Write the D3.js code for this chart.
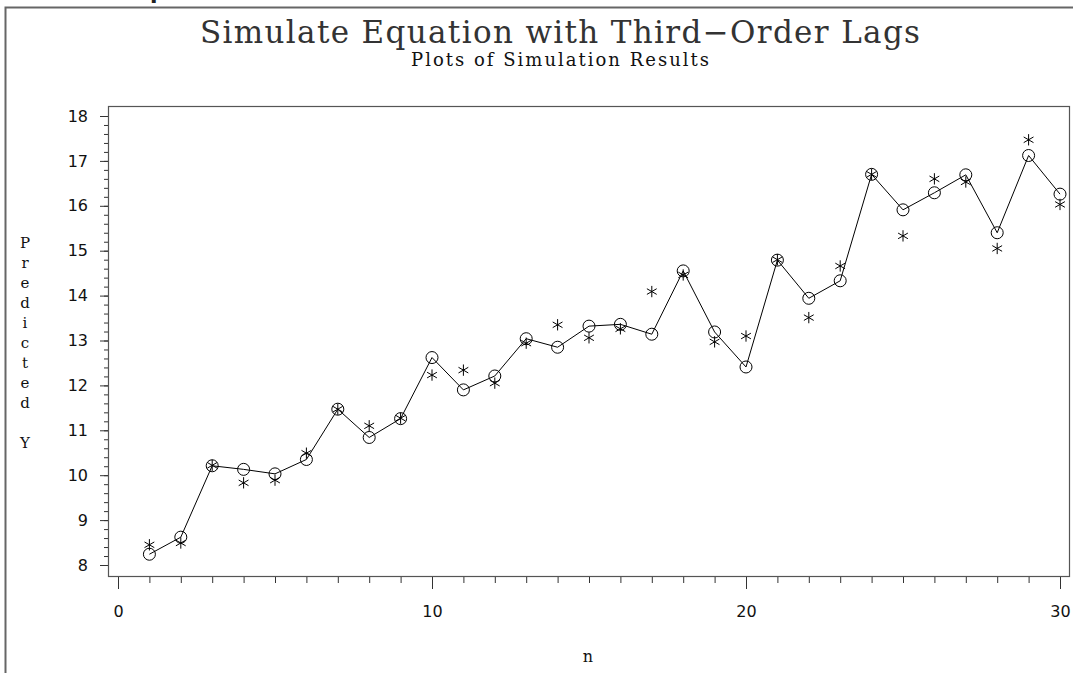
<!DOCTYPE html>
<html>
<head>
<meta charset="utf-8">
<script src="https://cdn.jsdelivr.net/npm/d3@7"></script>
<style>
  html, body { margin: 0; padding: 0; background: #fff; }
  svg { display: block; }
</style>
</head>
<body>
<div id="chart"></div>
<script>
// values
const nValues = [1, 2, 3, 4, 5, 6, 7, 8, 9, 10, 11, 12, 13, 14, 15, 16, 17, 18, 19, 20, 21, 22, 23, 24, 25, 26, 27, 28, 29, 30];
const predicted = [8.24, 8.62, 10.21, 10.13, 10.03, 10.35, 11.47, 10.84, 11.26, 12.62,
                   11.90, 12.21, 13.04, 12.85, 13.32, 13.36, 13.14, 14.55, 13.19, 12.41,
                   14.79, 13.94, 14.33, 16.70, 15.91, 16.29, 16.69, 15.40, 17.12, 16.26];
const actual = [8.45, 8.49, 10.22, 9.83, 9.89, 10.49, 11.47, 11.10, 11.27, 12.23,
                12.34, 12.05, 12.94, 13.35, 13.06, 13.26, 14.09, 14.46, 12.97, 13.10,
                14.80, 13.51, 14.66, 16.70, 15.33, 16.60, 16.53, 15.05, 17.47, 16.03];
const yMajorTicks = [8, 9, 10, 11, 12, 13, 14, 15, 16, 17, 18];
const xMajorTicks = [0, 10, 20, 30];
const titleText = "Simulate Equation with Third\u2212Order Lags";
const subtitleText = "Plots of Simulation Results";
const yLabel = "Predicted Y";
const xLabel = "n";

const width = 1073;
const height = 673;

// plot frame
const frameLeft = 108, frameRight = 1069, frameTop = 106, frameBottom = 576;

const x = d3.scaleLinear().domain([0, 30]).range([118, 1060]);
const y = d3.scaleLinear().domain([8, 18]).range([565, 116]);

const serif = "'DejaVu Serif', 'Liberation Serif', serif";
const sans = "'DejaVu Sans', Verdana, sans-serif";

const svg = d3.select("#chart").append("svg")
    .attr("width", width)
    .attr("height", height);

// outer page frame (only top and left edges show)
svg.append("path")
    .attr("d", `M5.5,${height} L5.5,7.5 L${width},7.5`)
    .attr("fill", "none")
    .attr("stroke", "#666")
    .attr("stroke-width", 2);

// cut-off heading above the frame, only the descender is visible
svg.append("text")
    .attr("x", 150)
    .attr("y", -1.5)
    .attr("font-family", sans)
    .attr("font-weight", "bold")
    .attr("font-size", 22)
    .attr("fill", "#222")
    .text("p");

// titles
svg.append("text")
    .attr("x", 560)
    .attr("y", 43)
    .attr("text-anchor", "middle")
    .attr("font-family", serif)
    .attr("font-size", 31)
    .attr("textLength", 720)
    .attr("lengthAdjust", "spacing")
    .attr("fill", "#333")
    .text(titleText);

svg.append("text")
    .attr("x", 560)
    .attr("y", 66)
    .attr("text-anchor", "middle")
    .attr("font-family", serif)
    .attr("font-size", 18)
    .attr("textLength", 298)
    .attr("lengthAdjust", "spacing")
    .attr("fill", "#111")
    .text(subtitleText);

// plot frame
svg.append("rect")
    .attr("x", frameLeft + 0.5)
    .attr("y", frameTop + 0.5)
    .attr("width", frameRight - frameLeft)
    .attr("height", frameBottom - frameTop)
    .attr("fill", "none")
    .attr("stroke", "#555")
    .attr("stroke-width", 1.2);

// y axis: minor ticks every 0.2, major ticks with labels
const yMinor = svg.append("g")
    .attr("transform", `translate(${frameLeft},0)`)
    .call(d3.axisLeft(y).ticks(50).tickSize(4).tickFormat(""));
yMinor.select(".domain").remove();

const yMajor = svg.append("g")
    .attr("transform", `translate(${frameLeft},0)`)
    .call(d3.axisLeft(y).tickValues(yMajorTicks).tickSize(8).tickPadding(12).tickFormat(d3.format("d")));
yMajor.select(".domain").remove();
yMajor.selectAll("text")
    .attr("font-family", sans)
    .attr("font-size", 16)
    .attr("fill", "#111");

// x axis: minor ticks at every n, major at 0/10/20/30
const xMinor = svg.append("g")
    .attr("transform", `translate(0,${frameBottom + 1})`)
    .call(d3.axisBottom(x).ticks(30).tickSize(6).tickFormat(""));
xMinor.select(".domain").remove();

const xMajor = svg.append("g")
    .attr("transform", `translate(0,${frameBottom + 1})`)
    .call(d3.axisBottom(x).tickValues(xMajorTicks).tickSize(12).tickPadding(17).tickFormat(d3.format("d")));
xMajor.select(".domain").remove();
xMajor.selectAll("text")
    .attr("font-family", sans)
    .attr("font-size", 16)
    .attr("fill", "#111");

svg.selectAll(".tick line").attr("stroke", "#333");

// axis labels
svg.append("text")
    .attr("x", 588)
    .attr("y", 662)
    .attr("text-anchor", "middle")
    .attr("font-family", serif)
    .attr("font-size", 16)
    .attr("fill", "#111")
    .text(xLabel);

svg.append("g")
    .selectAll("text")
    .data(yLabel.split(""))
    .join("text")
      .attr("x", 25)
      .attr("y", (d, i) => 243 + i * 20)
      .attr("dy", "0.35em")
      .attr("text-anchor", "middle")
      .attr("font-family", serif)
      .attr("font-size", 15)
      .attr("fill", "#111")
      .text(d => d);

// predicted series: line with open circles
const line = d3.line()
    .x((d, i) => x(nValues[i]))
    .y(d => y(d));

svg.append("path")
    .datum(predicted)
    .attr("d", line)
    .attr("fill", "none")
    .attr("stroke", "#000")
    .attr("stroke-width", 1);

svg.append("g")
    .selectAll("circle")
    .data(predicted)
    .join("circle")
      .attr("cx", (d, i) => x(nValues[i]))
      .attr("cy", d => y(d))
      .attr("r", 6)
      .attr("fill", "none")
      .attr("stroke", "#000")
      .attr("stroke-width", 1);

// actual series: asterisks
svg.append("g")
    .selectAll("path")
    .data(actual)
    .join("path")
      .attr("transform", (d, i) => `translate(${x(nValues[i])},${y(d)})`)
      .attr("d", d3.symbol(d3.symbolAsterisk).size(90))
      .attr("fill", "none")
      .attr("stroke", "#000")
      .attr("stroke-width", 1);
</script>
</body>
</html>
